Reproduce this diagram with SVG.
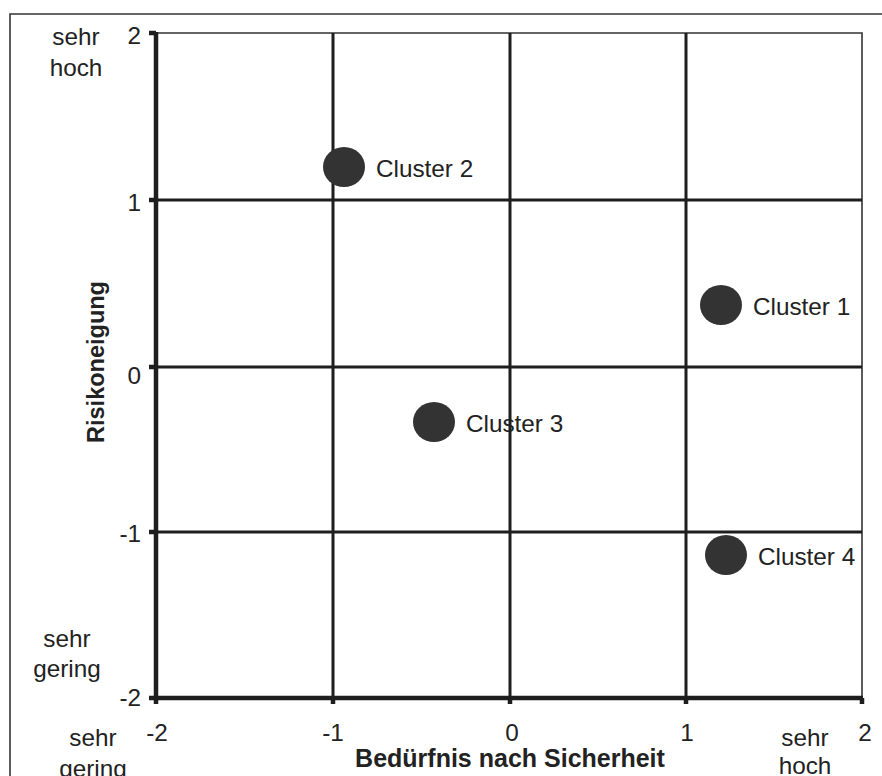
<svg xmlns="http://www.w3.org/2000/svg" width="882" height="776" viewBox="0 0 882 776">
<style>
text{font-family:"Liberation Sans",Arial,sans-serif;font-size:24.3px;fill:#222}
.b{font-weight:bold}
.t{font-size:25px}
.r{font-size:23.5px}
.m{text-anchor:middle}
.e{text-anchor:end}
.grid{stroke:#1e1e1e;stroke-width:3;fill:none}
.axis{stroke:#1e1e1e;stroke-width:4.5;fill:none}
.thin{stroke:#333;stroke-width:1.6;fill:none}
.dot{fill:#333}
</style>
<rect width="882" height="776" fill="#fff"/>
<g id="frame"><path class="thin" d="M10,790 V14 H890"/></g>
<g id="connectors">
<path class="thin" d="M156,33 H862 V698"/>
<path class="grid" d="M156,200 H862 M156,367 H862 M156,532 H862 M333,33 V698 M510,33 V698 M686,33 V698"/>
<path class="axis" d="M156,32 V698 H863"/>
<path class="axis" d="M149,33 H156 M149,200 H156 M149,367 H156 M149,532 H156 M149,698 H156 M156,698 V704 M333,698 V704 M510,698 V704 M686,698 V704 M862,698 V704"/>
</g>
<g id="yticks">
<text class="e" x="141" y="44">2</text>
<text class="e" x="141" y="211">1</text>
<text class="e" x="141" y="384">0</text>
<text class="e" x="141" y="542">-1</text>
<text class="e" x="141" y="706">-2</text>
</g>
<g id="xticks">
<text class="m" x="157" y="741">-2</text>
<text class="m" x="333" y="741">-1</text>
<text class="m" x="512" y="741">0</text>
<text class="m" x="687" y="741">1</text>
<text class="m" x="865" y="741">2</text>
</g>
<g id="ylabels">
<text class="m" x="76" y="45">sehr</text>
<text class="m" x="76" y="76">hoch</text>
<text class="m" x="67" y="647">sehr</text>
<text class="m" x="67" y="677">gering</text>
</g>
<g id="xlabels">
<text class="m" x="93" y="746">sehr</text>
<text class="m" x="93" y="777">gering</text>
<text class="m" x="805" y="746">sehr</text>
<text class="m" x="805" y="774">hoch</text>
</g>
<g id="ytitle"><text class="b m r" transform="translate(104,362) rotate(-90)">Risikoneigung</text></g>
<g id="xtitle"><text class="b m t" x="510" y="767">Bedürfnis nach Sicherheit</text></g>
<g id="cluster1"><ellipse class="dot" cx="721" cy="305" rx="21" ry="20"/><text x="753" y="315">Cluster 1</text></g>
<g id="cluster2"><ellipse class="dot" cx="344" cy="167" rx="21" ry="20"/><text x="376" y="177">Cluster 2</text></g>
<g id="cluster3"><ellipse class="dot" cx="434" cy="422" rx="21" ry="20"/><text x="466" y="432">Cluster 3</text></g>
<g id="cluster4"><ellipse class="dot" cx="726" cy="555" rx="21" ry="20"/><text x="758" y="565">Cluster 4</text></g>
</svg>
